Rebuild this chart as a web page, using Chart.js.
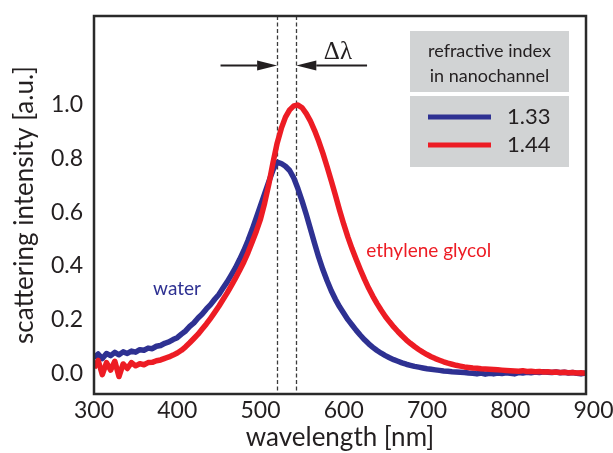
<!DOCTYPE html>
<html>
<head>
<meta charset="utf-8">
<script src="https://cdn.jsdelivr.net/npm/chart.js@4.4.0/dist/chart.umd.min.js"></script>
<style>
html,body{margin:0;padding:0;background:#fff;}
#wrap{width:613px;height:453px;position:relative;}
</style>
</head>
<body>
<div id="wrap"><canvas id="c" width="613" height="453"></canvas></div>
<script>
// ---- data ----
const wavelengths = [300,305,310,315,320,325,330,335,340,345,350,355,360,365,370,375,380,385,390,395,
400,405,410,415,420,425,430,435,440,445,450,455,460,465,470,475,480,485,490,495,
500,505,510,515,520,525,530,535,540,545,550,555,560,565,570,575,580,585,590,595,
600,605,610,615,620,625,630,635,640,645,650,655,660,665,670,675,680,685,690,695,
700,705,710,715,720,725,730,735,740,745,750,755,760,765,770,775,780,785,790,795,
800,805,810,815,820,825,830,835,840,845,850,855,860,865,870,875,880,885,890];

const water = [0.058,0.072,0.055,0.074,0.066,0.078,0.069,0.080,0.074,0.083,0.079,0.088,0.086,0.094,0.092,0.101,0.104,0.112,0.117,0.126,
0.133,0.146,0.158,0.175,0.188,0.206,0.221,0.240,0.256,0.276,0.294,0.318,0.341,0.367,0.394,0.425,0.458,0.495,0.536,0.580,
0.625,0.670,0.715,0.758,0.787,0.782,0.772,0.756,0.728,0.688,0.642,0.592,0.538,0.484,0.432,0.386,0.345,0.308,0.276,0.248,
0.224,0.200,0.180,0.160,0.142,0.125,0.110,0.097,0.085,0.075,0.066,0.058,0.051,0.045,0.039,0.034,0.030,0.026,0.023,0.020,
0.017,0.015,0.013,0.011,0.009,0.008,0.006,0.005,0.004,0.003,0.001,0.000,-0.002,0.001,-0.003,0.000,-0.002,0.001,-0.001,0.002,
0.000,-0.002,0.003,0.001,0.004,0.002,0.005,0.003,0.006,0.004,0.003,0.005,0.002,0.004,0.001,0.003,0.000,-0.002,0.001];

const ethyleneGlycol = [0.020,0.048,-0.005,0.040,0.012,0.045,-0.012,0.035,0.018,0.040,0.028,0.036,0.032,0.040,0.041,0.047,0.050,0.056,0.061,0.068,
0.076,0.086,0.099,0.114,0.130,0.146,0.165,0.184,0.205,0.227,0.250,0.275,0.300,0.327,0.355,0.384,0.415,0.450,0.490,0.530,
0.575,0.635,0.705,0.785,0.858,0.913,0.955,0.982,0.997,1.000,0.990,0.968,0.940,0.905,0.865,0.820,0.770,0.718,0.664,0.608,
0.556,0.508,0.464,0.424,0.386,0.350,0.317,0.287,0.260,0.235,0.212,0.192,0.173,0.156,0.140,0.125,0.112,0.100,0.089,0.079,
0.070,0.062,0.055,0.049,0.043,0.038,0.034,0.030,0.027,0.024,0.022,0.020,0.019,0.017,0.016,0.015,0.014,0.013,0.012,0.011,
0.010,0.009,0.008,0.010,0.007,0.008,0.006,0.007,0.005,0.006,0.004,0.005,0.003,0.004,0.002,0.003,0.001,0.002,0.000];

const xTicks = [300,400,500,600,700,800,900];
const yTicks = [0.0,0.2,0.4,0.6,0.8,1.0];
const legendTitle = ['refractive index','in nanochannel'];
const seriesNames = ['1.33','1.44'];
const peakWater = 520;      // left dashed line (nm)
const peakGlycol = 543;     // right dashed line (nm)
const arrowLevel = 1.149;   // y-value of the Δλ arrows
const arrowTails = [452, 628];
const deltaLabel = 'Δλ';
const deltaPos = [593, 1.198];
const waterLabel = ['water', 371, 0.291];
const glycolLabel = ['ethylene glycol', 627, 0.432];

const BLUE = '#2e3192', RED = '#ed1c24', INK = '#231f20';
const FONT = 'Lato, "Open Sans", sans-serif';

const notes = {
  id: 'notes',
  beforeDatasetsDraw(chart) {
    const {ctx, chartArea: a, scales: {x}} = chart;
    ctx.save();
    ctx.strokeStyle = '#3c3c3c';
    ctx.lineWidth = 1.3;
    ctx.setLineDash([4, 2.5]);
    [peakWater, peakGlycol].forEach(p => {
      const px = Math.round(x.getPixelForValue(p)) + 0.5;
      ctx.beginPath(); ctx.moveTo(px, a.top); ctx.lineTo(px, a.bottom); ctx.stroke();
    });
    ctx.restore();
  },
  afterDraw(chart) {
    const {ctx, chartArea: a, scales: {x, y}} = chart;
    ctx.save();
    // frame
    ctx.strokeStyle = '#2a2a2a';
    ctx.lineWidth = 2.5;
    ctx.strokeRect(a.left, a.top, a.right - a.left, a.bottom - a.top);

    // arrows
    const ay = Math.round(y.getPixelForValue(arrowLevel)) + 0.5;
    const arrow = (xt, xh) => {
      const dir = xh > xt ? 1 : -1;
      const base = xh - dir * 20;
      ctx.strokeStyle = INK; ctx.fillStyle = INK; ctx.lineWidth = 2;
      ctx.beginPath(); ctx.moveTo(xt, ay); ctx.lineTo(base, ay); ctx.stroke();
      ctx.beginPath(); ctx.moveTo(xh, ay); ctx.lineTo(base, ay - 5); ctx.lineTo(base, ay + 5); ctx.closePath(); ctx.fill();
    };
    arrow(x.getPixelForValue(arrowTails[0]), x.getPixelForValue(peakWater));
    arrow(x.getPixelForValue(arrowTails[1]), x.getPixelForValue(peakGlycol));

    ctx.fillStyle = INK;
    ctx.font = '25px "Liberation Serif", serif';
    ctx.textAlign = 'center'; ctx.textBaseline = 'middle';
    ctx.fillText(deltaLabel, x.getPixelForValue(deltaPos[0]), y.getPixelForValue(deltaPos[1]));

    // legend boxes
    const bx = a.right - 176, bw = 159;
    ctx.fillStyle = '#d1d3d4';
    ctx.fillRect(bx, a.top + 15, bw, 61);
    ctx.fillRect(bx, a.top + 80, bw, 71);
    ctx.fillStyle = INK;
    ctx.font = '18px ' + FONT;
    ctx.textAlign = 'center'; ctx.textBaseline = 'alphabetic';
    ctx.fillText(legendTitle[0], bx + bw / 2, a.top + 41);
    ctx.fillText(legendTitle[1], bx + bw / 2, a.top + 66);
    [[BLUE, seriesNames[0], a.top + 101], [RED, seriesNames[1], a.top + 129]].forEach(([c, t, ly]) => {
      ctx.strokeStyle = c; ctx.lineWidth = 5;
      ctx.beginPath(); ctx.moveTo(bx + 18, ly); ctx.lineTo(bx + 81, ly); ctx.stroke();
      ctx.fillStyle = INK; ctx.font = '22px ' + FONT;
      ctx.textAlign = 'left'; ctx.textBaseline = 'middle';
      ctx.fillText(t, bx + 97, ly);
    });

    // curve labels
    ctx.font = '19px ' + FONT;
    ctx.textAlign = 'left'; ctx.textBaseline = 'alphabetic';
    ctx.fillStyle = BLUE;
    ctx.fillText(waterLabel[0], x.getPixelForValue(waterLabel[1]), y.getPixelForValue(waterLabel[2]));
    ctx.fillStyle = RED;
    ctx.fillText(glycolLabel[0], x.getPixelForValue(glycolLabel[1]), y.getPixelForValue(glycolLabel[2]));
    ctx.restore();
  }
};

const pts = arr => wavelengths.map((w, i) => ({x: w, y: arr[i]}));

new Chart(document.getElementById('c'), {
  type: 'line',
  data: {
    datasets: [
      {label: seriesNames[1], data: pts(ethyleneGlycol), borderColor: RED, borderWidth: 5.5, pointRadius: 0, tension: 0, borderJoinStyle: 'round', order: 0},
      {label: seriesNames[0], data: pts(water), borderColor: BLUE, borderWidth: 5.5, pointRadius: 0, tension: 0, borderJoinStyle: 'round', order: 1}
    ]
  },
  options: {
    responsive: false,
    animation: false,
    devicePixelRatio: 1,
    layout: {padding: {top: 16, right: 27, left: 0, bottom: 0}},
    plugins: {legend: {display: false}, tooltip: {enabled: false}},
    scales: {
      x: {
        type: 'linear', min: 300, max: 891,
        afterBuildTicks: s => { s.ticks = xTicks.map(v => ({value: v})); },
        afterFit: s => { s.height = 59; s.paddingLeft = 0; s.paddingRight = 0; },
        grid: {display: false, drawTicks: false},
        border: {display: false},
        ticks: {padding: 3, color: INK, font: {family: FONT, size: 23}, maxRotation: 0, autoSkip: false},
        title: {display: true, text: 'wavelength [nm]', color: INK, font: {family: FONT, size: 26}, padding: {top: 0, bottom: 0}}
      },
      y: {
        type: 'linear', min: -0.077, max: 1.332,
        afterBuildTicks: s => { s.ticks = yTicks.map(v => ({value: v})); },
        afterFit: s => { s.width = 94; s.paddingTop = 0; s.paddingBottom = 0; },
        grid: {display: false, drawTicks: false},
        border: {display: false},
        ticks: {padding: 11, color: INK, font: {family: FONT, size: 23}, callback: v => v.toFixed(1)},
        title: {display: true, text: 'scattering intensity [a.u.]', color: INK, font: {family: FONT, size: 26}, padding: {top: 9, bottom: 0}}
      }
    }
  },
  plugins: [notes]
});
</script>
</body>
</html>
